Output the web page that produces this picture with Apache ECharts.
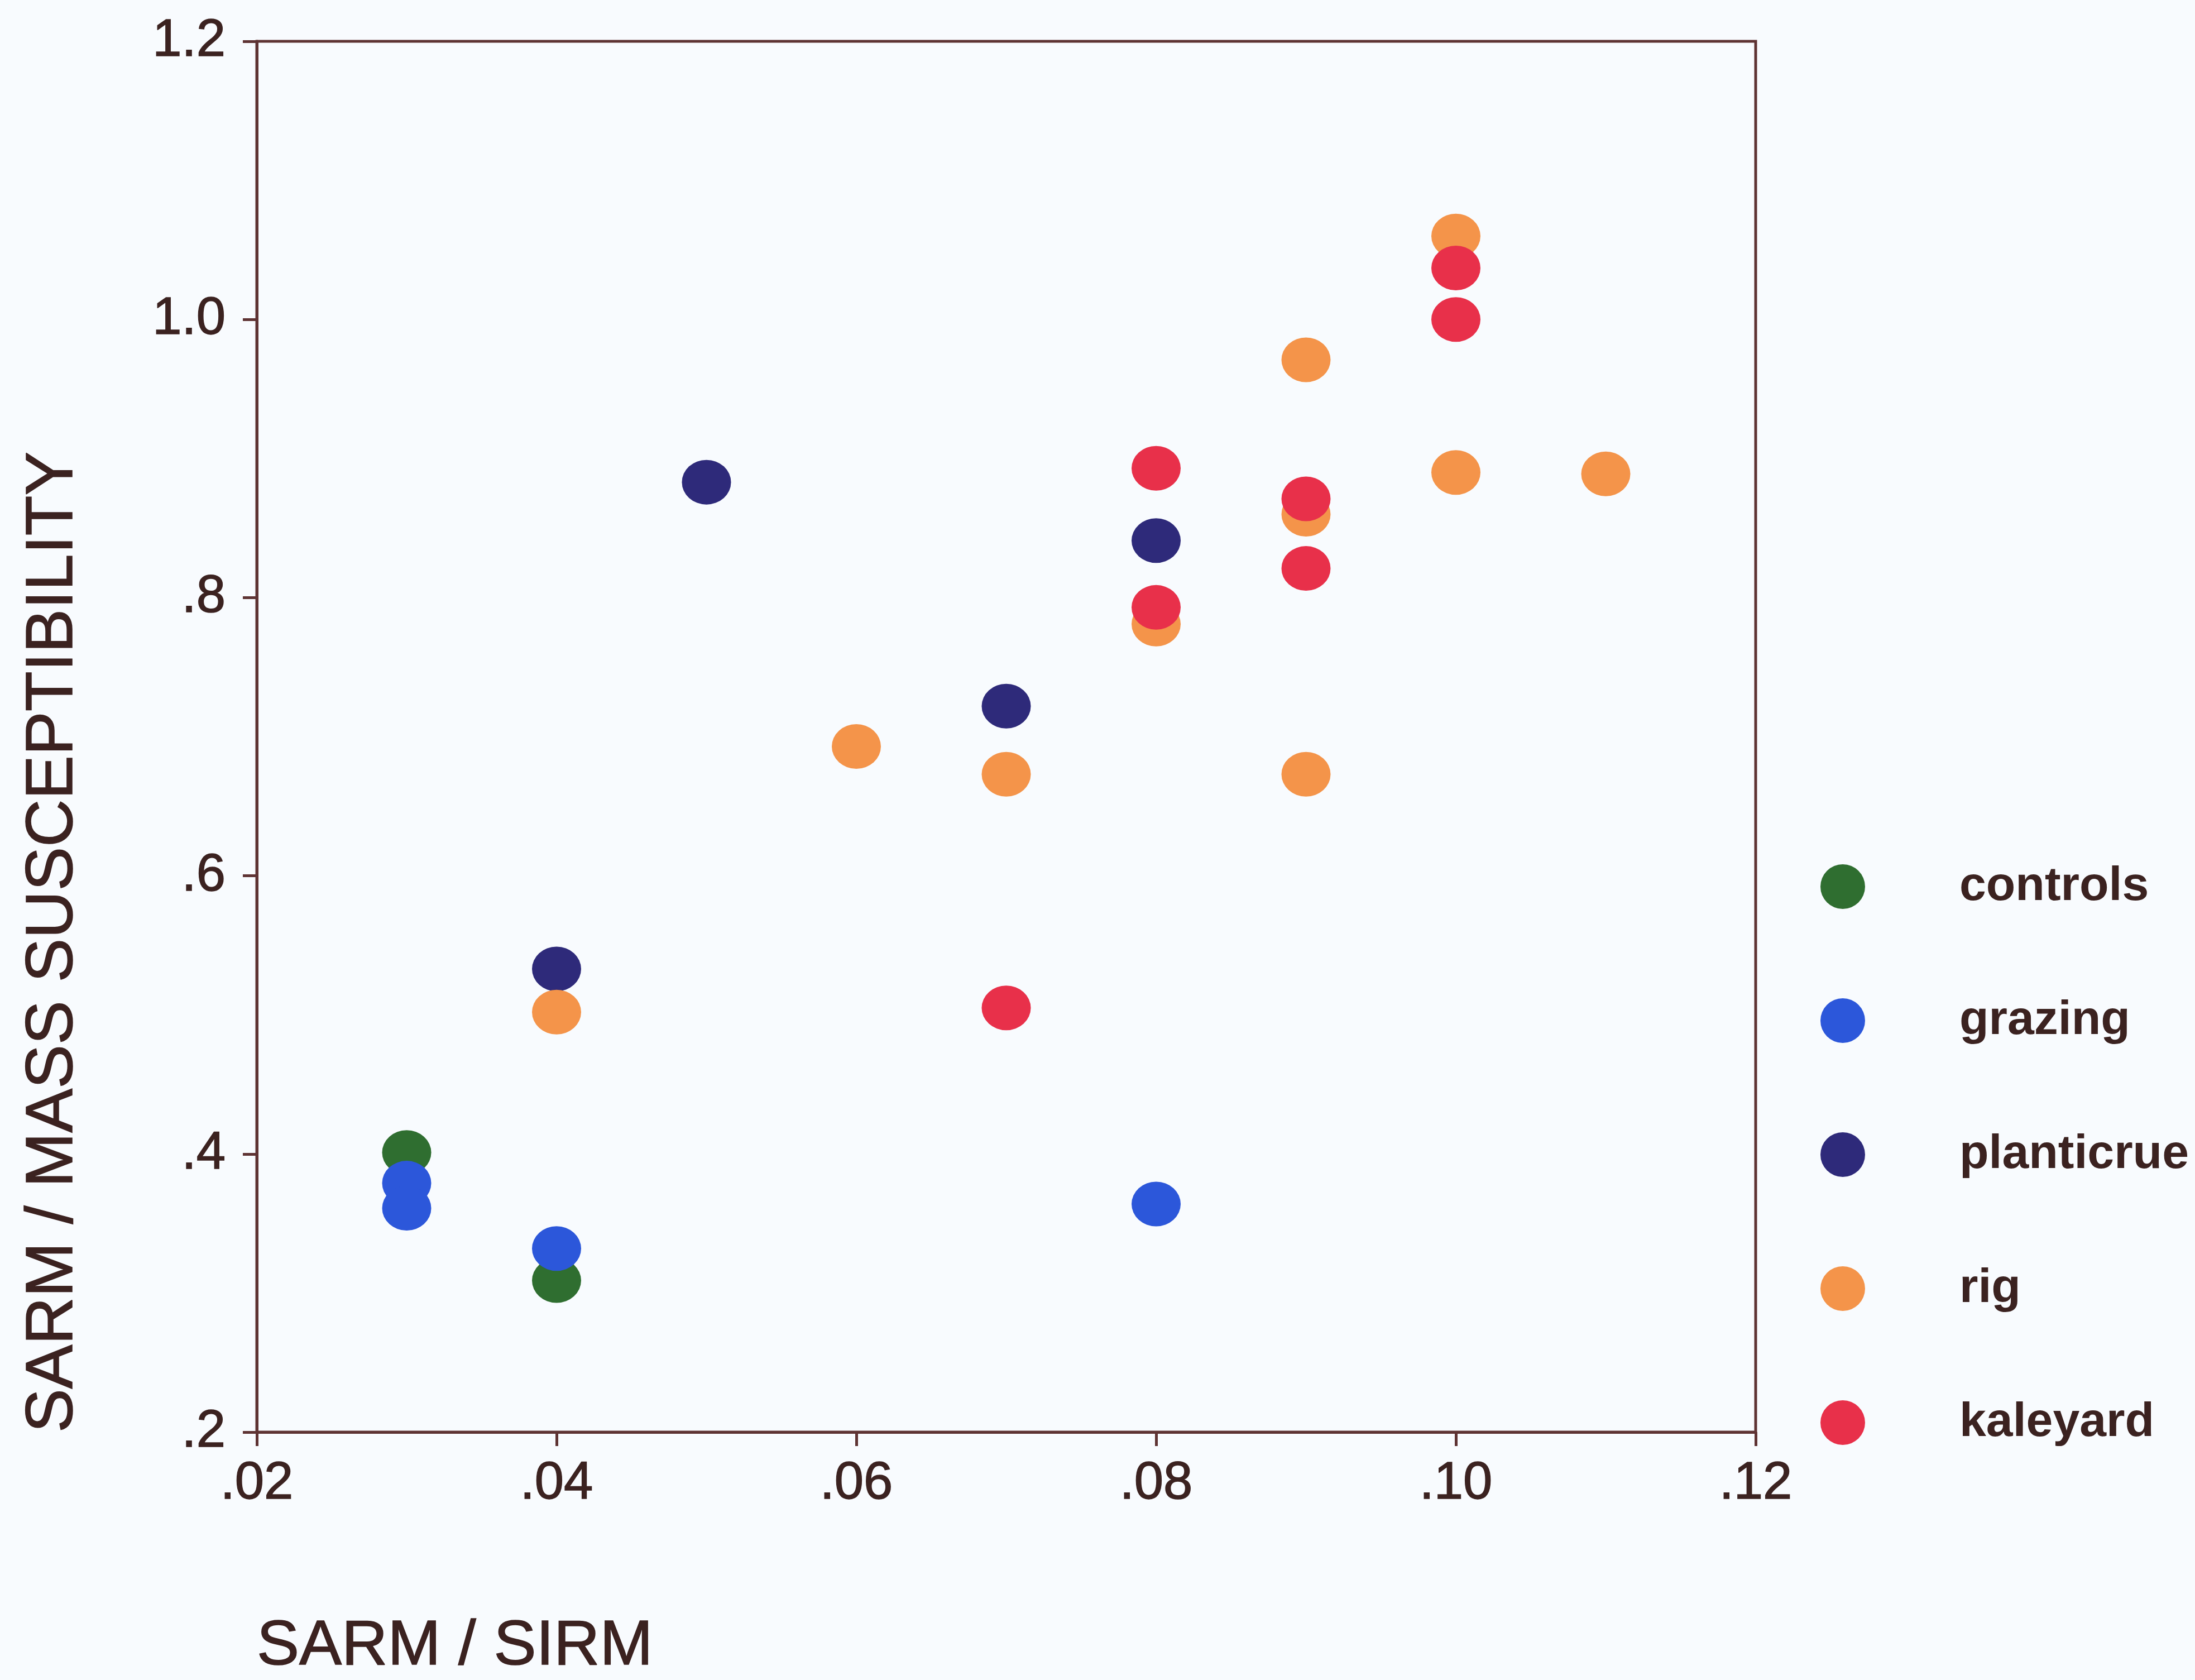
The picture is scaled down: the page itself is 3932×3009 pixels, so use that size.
<!DOCTYPE html>
<html>
<head>
<meta charset="utf-8">
<script src="https://cdn.jsdelivr.net/npm/echarts@6/dist/echarts.min.js"></script>
<style>
html,body{margin:0;padding:0;background:#f8fbfe;}
#chart{width:3932px;height:3009px;}
</style>
</head>
<body>
<div id="chart"></div>
<script>
// ---- data ----
const seriesNames = ['controls', 'grazing', 'planticrue', 'rig', 'kaleyard'];
const controls   = [[0.03, 0.401], [0.04, 0.309]];
const grazing    = [[0.03, 0.379], [0.03, 0.361], [0.04, 0.332], [0.08, 0.364]];
const planticrue = [[0.05, 0.883], [0.04, 0.533], [0.08, 0.841], [0.07, 0.722]];
const rig        = [[0.04, 0.502], [0.06, 0.693], [0.07, 0.673], [0.08, 0.781], [0.09, 0.971],
                    [0.09, 0.860], [0.09, 0.673], [0.10, 1.060], [0.10, 0.890], [0.11, 0.889]];
const kaleyard   = [[0.07, 0.505], [0.08, 0.893], [0.08, 0.793], [0.09, 0.871], [0.09, 0.821],
                    [0.10, 1.037], [0.10, 1.000]];
const xTicks = [0.02, 0.04, 0.06, 0.08, 0.10, 0.12];
const yTicks = [0.2, 0.4, 0.6, 0.8, 1.0, 1.2];
const xTitle = 'SARM / SIRM';
const yTitle = 'SARM / MASS SUSCEPTIBILITY';

// ---- styling ----
const colors = ['#2f6e30', '#2c57da', '#2e2a7a', '#f4944a', '#e8304a'];
const ink = '#3b2220';
const axisCol = '#5e3333';
const font = '"Liberation Sans", Arial, sans-serif';
const ellipse = 'path://M0,50 A50,50 0 1,1 100,50 A50,50 0 1,1 0,50 Z';

function fmt(v, d) {
  let s = Number(v).toFixed(d);
  if (s.startsWith('0')) s = s.slice(1);
  return s;
}

const dataSets = [controls, grazing, planticrue, rig, kaleyard];
const chart = echarts.init(document.getElementById('chart'), null, {renderer: 'canvas'});

const grid = {left: 460, top: 74, width: 2685, height: 2491};

chart.setOption({
  backgroundColor: '#f8fbfe',
  animation: false,
  color: colors,
  grid: {
    show: true, left: grid.left, top: grid.top, width: grid.width, height: grid.height,
    borderColor: axisCol, borderWidth: 5, backgroundColor: 'transparent'
  },
  xAxis: {
    type: 'value', min: xTicks[0], max: xTicks[xTicks.length - 1], interval: 0.02,
    axisLine: {show: true, onZero: false, lineStyle: {color: axisCol, width: 5}},
    axisTick: {show: true, length: 25, lineStyle: {color: axisCol, width: 5}},
    splitLine: {show: false},
    axisLabel: {fontSize: 94, color: ink, fontFamily: font, margin: 46,
      textBorderColor: ink, textBorderWidth: 1.5,
      formatter: v => fmt(v, 2)}
  },
  yAxis: {
    type: 'value', min: yTicks[0], max: yTicks[yTicks.length - 1], interval: 0.2,
    axisLine: {show: true, onZero: false, lineStyle: {color: axisCol, width: 5}},
    axisTick: {show: true, length: 25, lineStyle: {color: axisCol, width: 5}},
    splitLine: {show: false},
    axisLabel: {fontSize: 94, color: ink, fontFamily: font, margin: 56,
      textBorderColor: ink, textBorderWidth: 1.5,
      formatter: v => fmt(v, 1)}
  },
  legend: {
    orient: 'vertical', left: 3256, top: 1540,
    itemWidth: 88, itemHeight: 80, itemGap: 154,
    icon: ellipse,
    data: seriesNames,
    textStyle: {fontSize: 86, fontWeight: 'bold', color: ink, fontFamily: font,
      padding: [8, 0, 0, 160]}
  },
  graphic: [
    {type: 'text', x: 460, y: 2950,
      style: {text: xTitle, fontSize: 114, fontFamily: font, fill: ink,
        stroke: ink, lineWidth: 1.5,
        textAlign: 'left', textVerticalAlign: 'middle'}},
    {type: 'text', x: 96, y: 2566, rotation: Math.PI / 2,
      style: {text: yTitle, fontSize: 118, fontFamily: font, fill: ink,
        stroke: ink, lineWidth: 1.5,
        textAlign: 'left', textVerticalAlign: 'middle'}}
  ],
  series: seriesNames.map((name, i) => ({
    name: name, type: 'scatter', data: dataSets[i],
    symbol: ellipse, symbolSize: [88, 80],
    itemStyle: {color: colors[i], opacity: 1},
    emphasis: {disabled: true}
  }))
});
</script>
</body>
</html>
